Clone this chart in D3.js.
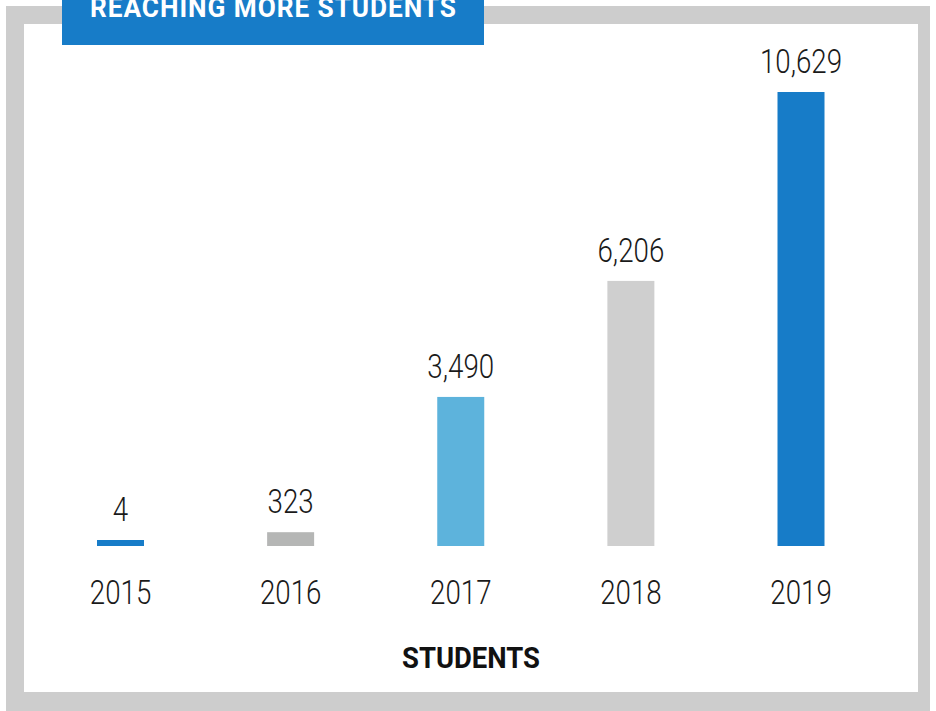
<!DOCTYPE html>
<html><head><meta charset="utf-8">
<script src="https://cdn.jsdelivr.net/npm/d3@7"></script>
<style>html,body{margin:0;padding:0;background:#fff;}svg{display:block;}</style>
</head><body>
<svg id="c" width="936" height="711"></svg>
<script>
const title = "REACHING MORE STUDENTS";
const axisTitle = "STUDENTS";
const years = ["2015","2016","2017","2018","2019"];
const students = [4, 323, 3490, 6206, 10629];
const barColors = ["#177cc8","#b5b6b5","#5db3dc","#cfcfcf","#177cc8"];

const svg = d3.select("#c");
// frame
svg.append("rect").attr("x",6).attr("y",6).attr("width",924).attr("height",720).attr("fill","#cdcdcd");
svg.append("rect").attr("x",24).attr("y",24).attr("width",894).attr("height",668).attr("fill","#ffffff");
// title box
svg.append("rect").attr("x",62).attr("y",-10).attr("width",422).attr("height",55).attr("fill","#177cc8");

function fitText(sel, w){
  const n = sel.node();
  const L = n.getComputedTextLength();
  const x = +sel.attr("data-x"), y = +sel.attr("data-y");
  const s = w / L;
  sel.attr("x",0).attr("y",0).attr("transform",`translate(${x},${y}) scale(${s},1)`);
}

const t = svg.append("text").text(title)
  .attr("data-x",273.5).attr("data-y",17)
  .attr("text-anchor","middle").attr("fill","#fff")
  .style("font-family","Roboto, sans-serif").style("font-weight",700).style("font-size","28px")
  .style("letter-spacing","1px");
fitText(t, 367);

const x = d3.scalePoint().domain(years).range([120.5, 801]);
const y = d3.scaleLinear().domain([0, d3.max(students)]).range([546, 92]);
const bw = 47;

const data = years.map((yr,i)=>({year:yr, v:students[i], c:barColors[i]}));

svg.selectAll("rect.bar").data(data).join("rect").attr("class","bar")
  .attr("x",d=>x(d.year)-bw/2).attr("width",bw)
  .attr("y",d=>Math.min(y(d.v), 540)).attr("height",d=>546-Math.min(y(d.v),540))
  .attr("fill",d=>d.c);

const fmt = d3.format(",");
const lightFont = "Roboto, sans-serif";
svg.selectAll("text.val").data(data).join("text").attr("class","val")
  .text(d=>fmt(d.v))
  .attr("text-anchor","middle").attr("fill","#1a1a1a")
  .style("font-family",lightFont).style("font-weight",300).style("font-size","33px")
  .attr("transform",d=>`translate(${x(d.year)},${Math.min(y(d.v),540)-19}) scale(0.84,1)`);

svg.selectAll("text.yr").data(data).join("text").attr("class","yr")
  .text(d=>d.year)
  .attr("text-anchor","middle").attr("fill","#1a1a1a")
  .style("font-family",lightFont).style("font-weight",300).style("font-size","33px")
  .attr("transform",d=>`translate(${x(d.year)},604) scale(0.84,1)`);

const at = svg.append("text").text(axisTitle)
  .attr("data-x",471).attr("data-y",668)
  .attr("text-anchor","middle").attr("fill","#111")
  .style("font-family","Roboto, sans-serif").style("font-weight",700).style("font-size","30px");
fitText(at, 138);
</script>
</body></html>
